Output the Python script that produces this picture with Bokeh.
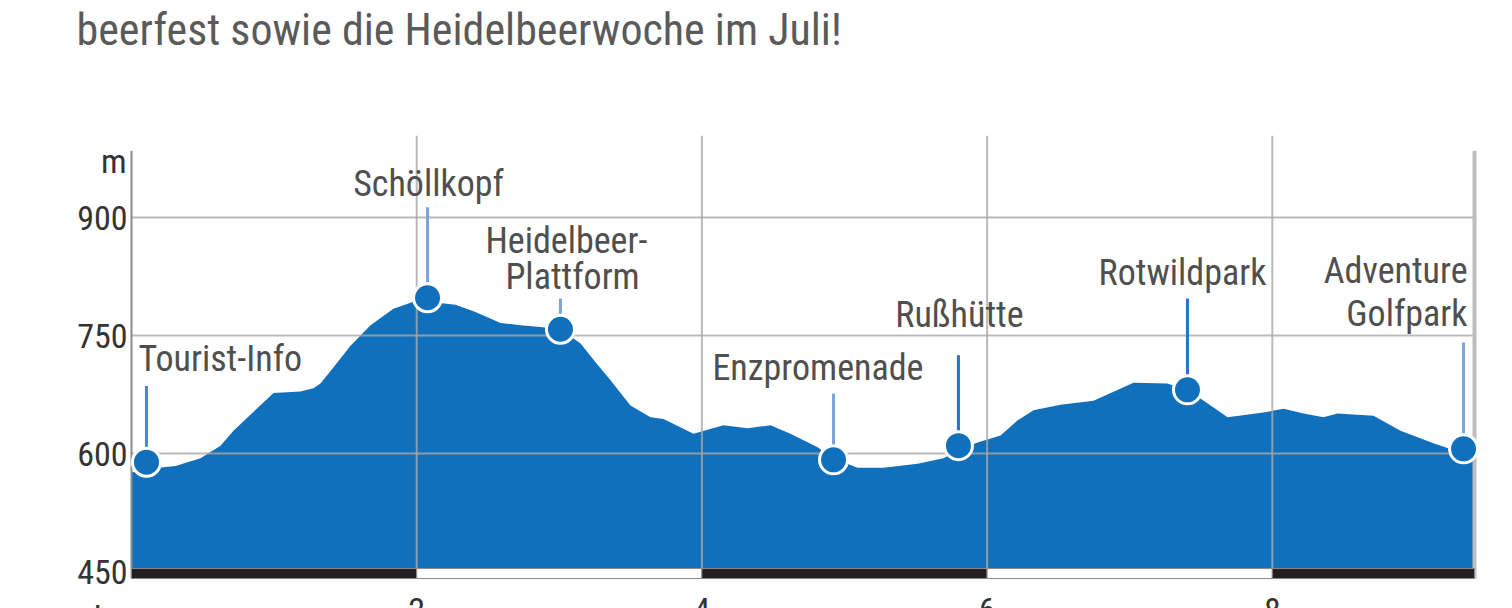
from bokeh.plotting import figure
from bokeh.models import Range1d
from bokeh.core.properties import value
from bokeh.embed import file_html
from bokeh.resources import INLINE

# ---------------- data ----------------
title_text = "beerfest sowie die Heidelbeerwoche im Juli!"

km_profile = [0.000, 0.133, 0.309, 0.484, 0.624, 0.715, 0.884, 0.996, 1.185, 1.276,
              1.325, 1.396, 1.536, 1.676, 1.837, 1.992, 2.132, 2.272, 2.412, 2.588,
              2.728, 2.868, 3.008, 3.149, 3.254, 3.359, 3.499, 3.640, 3.731, 3.941,
              4.151, 4.320, 4.481, 4.621, 4.811, 4.923, 5.091, 5.273, 5.512, 5.694,
              5.799, 5.933, 6.094, 6.213, 6.325, 6.515, 6.746, 7.027, 7.265, 7.405,
              7.496, 7.616, 7.686, 7.938, 8.079, 8.219, 8.359, 8.457, 8.710, 8.899,
              9.130, 9.341, 9.418]
elev_profile = [576, 581, 584, 594, 610, 629, 658, 677, 679, 683,
                689, 705, 737, 763, 784, 794, 792, 789, 780, 766,
                763, 761, 758, 740, 716, 693, 661, 646, 644, 625,
                636, 632, 636, 625, 608, 594, 582, 582, 587, 594,
                604, 614, 623, 642, 655, 662, 667, 690, 689, 680,
                670, 655, 646, 652, 657, 651, 646, 651, 648, 629,
                613, 600, 591]

stop_names = ["Tourist-Info", "Schöllkopf", "Heidelbeer-Plattform", "Enzpromenade",
              "Rußhütte", "Rotwildpark", "Adventure Golfpark"]
stop_km = [0.105, 2.076, 3.008, 4.923, 5.799, 7.405, 9.341]
stop_elev = [589, 798, 758, 592, 610, 681, 606]

y_ticks = [450, 600, 750, 900]
x_ticks = [2, 4, 6, 8]
x_tick_labels = ["2", "4", "6", "8"]
route_end_km = 9.418

# ---------------- layout / style ----------------
BLUE = "#1170bb"
LIGHT_LEADER = "#7ba3dc"
DARK_LEADER = "#2a72c4"
GRID = "#a9a9a9"
TEXT = "#4f4f4f"
FONT = value("'Roboto Condensed', 'DejaVu Sans Condensed', 'Liberation Sans Narrow', Roboto, sans-serif")

p = figure(width=1512, height=608, output_backend="svg", toolbar_location=None,
           x_range=Range1d(-0.9187, 9.6844), y_range=Range1d(403.0, 1175.9),
           x_axis_type=None, y_axis_type=None, min_border=0,
           background_fill_color="white", border_fill_color="white")
p.outline_line_color = None
p.grid.visible = False

# profile area
p.varea(x=km_profile, y1=441, y2=elev_profile, fill_color=BLUE)

# grid lines (drawn on top of the area)
p.segment(x0=[0] * 3, x1=[route_end_km] * 3, y0=y_ticks[1:], y1=y_ticks[1:],
          line_color=GRID, line_width=2, line_alpha=0.8)
p.segment(x0=x_ticks, x1=x_ticks, y0=[441] * 4, y1=[1004] * 4,
          line_color=GRID, line_width=2, line_alpha=0.8)
p.segment(x0=[route_end_km], x1=[route_end_km], y0=[441], y1=[985],
          line_color="#bdbdbd", line_width=4)
# y axis line
p.segment(x0=[0], x1=[0], y0=[441], y1=[985], line_color="#8a8a8a", line_width=2)

# distance bar
bar_left = [0] + x_ticks
bar_right = x_ticks + [route_end_km]
bar_colors = ["#231f20", "white", "#231f20", "white", "#231f20"]
p.quad(left=bar_left, right=bar_right, bottom=441.1, top=453.8,
       fill_color=bar_colors, line_color="#8a8a8a", line_width=1)

# leader lines
leader_top = [686, 913, 797, 676, 725, 797, 741]
leader_col = ["#4d86d6", LIGHT_LEADER, LIGHT_LEADER, LIGHT_LEADER, DARK_LEADER, DARK_LEADER, LIGHT_LEADER]
p.segment(x0=stop_km, x1=stop_km, y0=stop_elev, y1=leader_top,
          line_color=leader_col, line_width=3)

# markers
p.scatter(x=stop_km, y=stop_elev, size=28, fill_color=BLUE,
          line_color="white", line_width=3)

# stop labels
lab_size = "36px"
p.text(x=[0.049, 4.074], y=[720.8, 708.1], text=[stop_names[0], stop_names[3]],
       text_font=FONT, text_font_size=lab_size, text_color=TEXT,
       text_align="left", text_baseline="middle")
p.text(x=[2.083, 3.050, 3.093, 5.806, 7.370], y=[943.2, 870.8, 825.0, 776.7, 830.1],
       text=[stop_names[1], "Heidelbeer-", "Plattform", stop_names[4], stop_names[5]],
       text_font=FONT, text_font_size=lab_size, text_color=TEXT,
       text_align="center", text_baseline="middle")
p.text(x=[9.369, 9.369], y=[832.6, 778.0], text=["Adventure", "Golfpark"],
       text_font=FONT, text_font_size=lab_size, text_color=TEXT,
       text_align="right", text_baseline="middle")

# y tick labels and unit
p.text(x=[-0.028] * 4, y=y_ticks, text=[str(v) for v in y_ticks],
       text_font=FONT, text_font_size="34px", text_color="#333333",
       text_align="right", text_baseline="middle")
p.text(x=[-0.035], y=[972.5], text=["m"],
       text_font=FONT, text_font_size="34px", text_color="#333333",
       text_align="right", text_baseline="middle")

# x tick labels (their lower part falls below the picture edge, as in the source)
p.text(x=x_ticks + [-0.12], y=[416.5] * 5, text=x_tick_labels + ["km"],
       text_font=FONT, text_font_size="34px", text_color="#333333",
       text_align="center", text_baseline="top")

# heading line from the article above
p.text(x=[-0.386], y=[1139.0], text=[title_text],
       text_font=FONT, text_font_size="44px", text_color="#5a5a5a",
       text_align="left", text_baseline="alphabetic")

open("out.html", "w").write(file_html(p, INLINE))
